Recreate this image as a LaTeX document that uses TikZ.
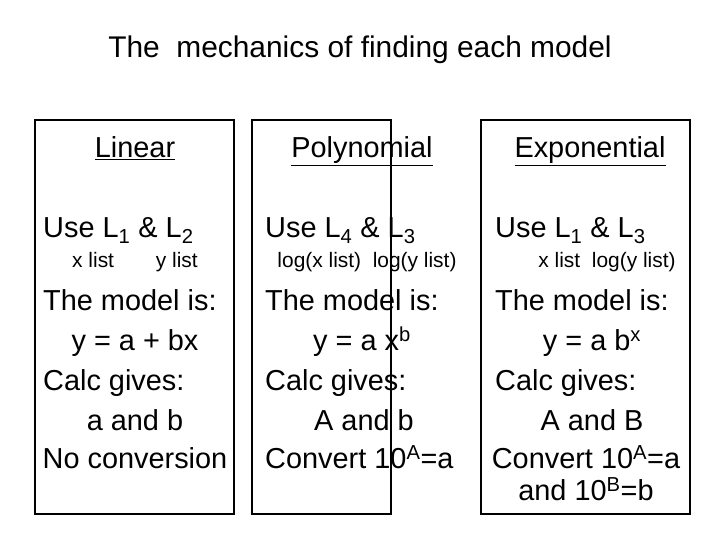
\documentclass[tikz,border=0pt]{standalone}
\usepackage{fontspec}
\setmainfont{Liberation Sans}
\begin{document}
\begin{tikzpicture}[x=1bp,y=-1bp,
    big/.style={font=\fontsize{29}{32}\selectfont,inner sep=0pt,anchor=base},
    small/.style={font=\fontsize{21}{24}\selectfont,inner sep=0pt,anchor=base},
    panel/.style={draw,line width=1.5pt}]
  \useasboundingbox (0,0) rectangle (720,540);
  \node[big,font=\fontsize{30}{34}\selectfont] (title) at (360,58) {The\ \ mechanics of finding each model};

  \draw[panel] (35,120) rectangle (234,514);
  \draw[panel] (252,120) rectangle (391,514);
  \draw[panel] (481,120) rectangle (690,514);

  % Linear
  \node[big] (linhead) at (135,158) {\underline{Linear}};
  \node[big,anchor=base west] (linuse) at (43,238) {Use L\textsubscript{1} \& L\textsubscript{2}};
  \node[small] (linlist) at (135,268) {x list\qquad y list};
  \node[big,anchor=base west] (linmodel) at (43,310) {The model is:};
  \node[big] (lineq) at (135,350) {y = a + bx};
  \node[big,anchor=base west] (lincalc) at (43,390) {Calc gives:};
  \node[big] (linab) at (135,430) {a and b};
  \node[big] (linconv) at (135,468) {No conversion};

  % Polynomial
  \node[big] (polhead) at (362,158) {\underline{Polynomial}};
  \node[big,anchor=base west] (poluse) at (265,238) {Use L\textsubscript{4} \& L\textsubscript{3}};
  \node[small] (pollist) at (367,268) {log(x list)\ \ log(y list)};
  \node[big,anchor=base west] (polmodel) at (265,310) {The model is:};
  \node[big] (poleq) at (362,350) {y = a x\textsuperscript{b}};
  \node[big,anchor=base west] (polcalc) at (265,390) {Calc gives:};
  \node[big] (polab) at (364,430) {A and b};
  \node[big,anchor=base west] (polconv) at (265,468) {Convert 10\textsuperscript{A}=a};

  % Exponential
  \node[big] (exphead) at (590,158) {\underline{Exponential}};
  \node[big,anchor=base west] (expuse) at (495,238) {Use L\textsubscript{1} \& L\textsubscript{3}};
  \node[small] (explist) at (607,268) {x list\ \ log(y list)};
  \node[big,anchor=base west] (expmodel) at (495,310) {The model is:};
  \node[big] (expeq) at (592,350) {y = a b\textsuperscript{x}};
  \node[big,anchor=base west] (expcalc) at (495,390) {Calc gives:};
  \node[big] (expab) at (592,430) {A and B};
  \node[big] (expconv) at (586,468) {Convert 10\textsuperscript{A}=a};
  \node[big] (expand) at (586,500) {and 10\textsuperscript{B}=b};
\end{tikzpicture}
\end{document}
